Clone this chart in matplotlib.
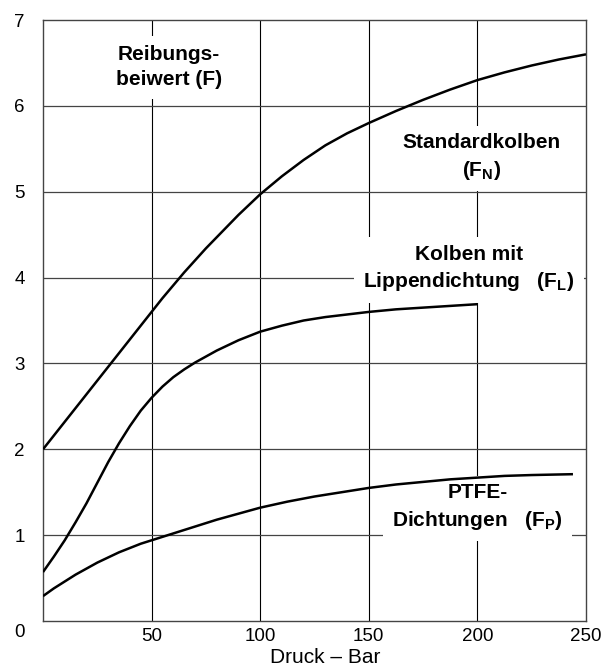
""" Reibungsbeiwert über Druck für drei Kolbenbauarten """

import matplotlib.pyplot as plt

plt.rcParams['font.family'] = ['Liberation Sans', 'DejaVu Sans']
plt.rcParams['mathtext.fontset'] = 'custom'
plt.rcParams['mathtext.rm'] = 'Liberation Sans:bold'
plt.rcParams['mathtext.bf'] = 'Liberation Sans:bold'

# Werte
druck_n = [0, 5, 10, 15, 20, 25, 30, 35, 40, 45, 50, 55, 60, 65, 70, 75, 80, 85, 90, 95,
           100, 110, 120, 130, 140, 150, 162.5, 175, 187.5, 200, 212.5, 225, 237.5, 250]
f_n = [2.00, 2.16, 2.32, 2.48, 2.64, 2.80, 2.96, 3.12, 3.28, 3.44, 3.60, 3.76, 3.91, 4.06,
       4.20, 4.34, 4.47, 4.60, 4.73, 4.85, 4.97, 5.18, 5.37, 5.54, 5.68, 5.80, 5.94, 6.07,
       6.19, 6.30, 6.39, 6.47, 6.54, 6.60]

druck_l = [0, 5, 10, 15, 20, 25, 30, 35, 40, 45, 50, 55, 60, 65, 70, 75, 80, 85, 90, 95,
           100, 110, 120, 130, 140, 150, 162.5, 175, 187.5, 200]
f_l = [0.57, 0.75, 0.94, 1.15, 1.37, 1.61, 1.85, 2.07, 2.27, 2.45, 2.60, 2.73, 2.84, 2.93,
       3.01, 3.08, 3.15, 3.21, 3.27, 3.32, 3.37, 3.44, 3.50, 3.54, 3.57, 3.60, 3.63, 3.65,
       3.67, 3.69]

druck_p = [0, 5, 10, 15, 20, 25, 30, 35, 40, 45, 50, 55, 60, 70, 80, 90, 100, 112.5, 125,
           137.5, 150, 162.5, 175, 187.5, 200, 212.5, 225, 244]
f_p = [0.29, 0.38, 0.46, 0.54, 0.61, 0.68, 0.74, 0.80, 0.85, 0.90, 0.94, 0.98, 1.02, 1.10,
       1.18, 1.25, 1.32, 1.39, 1.45, 1.50, 1.55, 1.59, 1.62, 1.65, 1.67, 1.69, 1.70, 1.71]

x_ticks = [50, 100, 150, 200, 250]
y_ticks = [1, 2, 3, 4, 5, 6, 7]

fig = plt.figure(figsize=(6.13, 6.66), dpi=100)
ax = fig.add_axes([43 / 613, 45 / 666, 543 / 613, 601 / 666])

ax.set_xlim(0, 250)
ax.set_ylim(0, 7)

# Gitter
for x in x_ticks[:-1]:
    ax.axvline(x, color='black', lw=0.8, zorder=1)
for y in y_ticks[:-1]:
    ax.axhline(y, color='#444444', lw=0.9, zorder=1)

for s in ax.spines.values():
    s.set_color('#444444')
    s.set_linewidth(1.0)

# Kurven
kw = dict(color='black', lw=1.8, zorder=4, solid_capstyle='butt', solid_joinstyle='round')
ax.plot(druck_n, f_n, **kw)
ax.plot(druck_l, f_l, **kw)
ax.plot(druck_p, f_p, **kw)

ax.set_xticks(x_ticks)
ax.set_yticks(y_ticks)
ax.tick_params(length=0, labelsize=13.5)
ax.tick_params(axis='y', pad=13)
ax.tick_params(axis='x', pad=5)
ax.annotate('0', xy=(0, 0), xycoords=('axes fraction', 'data'),
            xytext=(-13, -8), textcoords='offset points',
            ha='right', va='center', fontsize=13.5)

fig.text(325 / 613, 1 - 648 / 666, 'Druck – Bar', ha='center', va='top', fontsize=15)

# Beschriftungen
box = dict(boxstyle='square,pad=0.45', fc='white', ec='none')
tkw = dict(ha='center', va='center', fontsize=15, fontweight='bold',
           linespacing=1.4, bbox=box, zorder=3, multialignment='center')
ax.text(58, 6.45, 'Reibungs-\nbeiwert (F)', **tkw)
ax.text(202, 5.40, 'Standardkolben\n(F$_{\\mathregular{N}}$)', **tkw)
ax.text(196, 4.10, 'Kolben mit\nLippendichtung   (F$_{\\mathregular{L}}$)', **tkw)
ax.text(200, 1.32, 'PTFE-\nDichtungen   (F$_{\\mathregular{P}}$)', **tkw)

plt.savefig('out.png', dpi=100)
